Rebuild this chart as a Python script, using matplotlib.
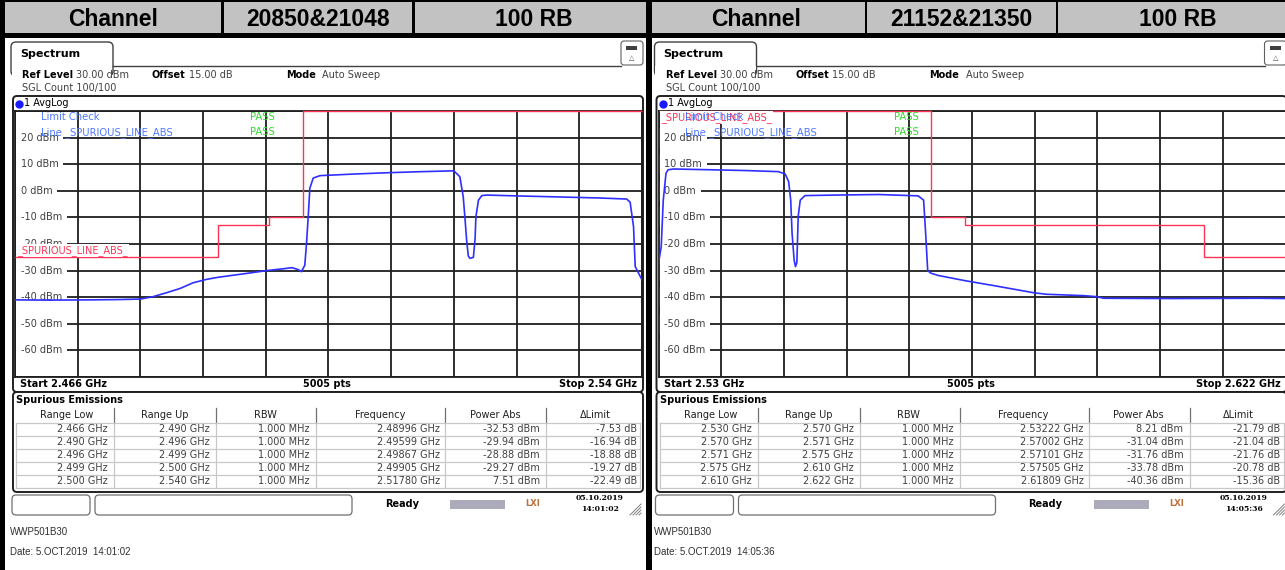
import matplotlib
matplotlib.use("Agg")
import matplotlib.pyplot as plt
from matplotlib.patches import Rectangle, FancyBboxPatch
from matplotlib.transforms import blended_transform_factory

W, H = 1285, 570

# header cells
header_left = ["Channel", "20850&21048", "100 RB"]
header_right = ["Channel", "21152&21350", "100 RB"]

# sweep span (GHz)
start_left, stop_left = 2.466, 2.54
start_right, stop_right = 2.53, 2.622
sweep_pts = 5005
ref_level, offset_db = 30.00, 15.00

# trace 1 AvgLog, left sweep
trace_left_f = [2.4660, 2.4700, 2.4750, 2.4780, 2.4808, 2.4823, 2.4839, 2.4855, 2.4870, 2.4886,
                2.4900, 2.4937, 2.4957, 2.4977, 2.4987, 2.4994, 2.4998, 2.5002, 2.5004, 2.5006,
                2.5008, 2.5012, 2.5020, 2.5060, 2.5100, 2.5140, 2.5178, 2.5185, 2.5189, 2.5191,
                2.5193, 2.5195, 2.5197, 2.5201, 2.5203, 2.5204, 2.5207, 2.5211, 2.5217, 2.5250,
                2.5300, 2.5350, 2.5382, 2.5386, 2.5390, 2.5392, 2.5396, 2.5400]
trace_left_db = [-41.0, -41.1, -41.0, -40.9, -40.7, -39.8, -38.3, -36.7, -34.6, -33.3,
                 -32.5, -30.9, -30.0, -29.3, -28.9, -29.6, -30.4, -28.0, -20.0, -10.0,
                 1.0, 4.8, 5.7, 6.3, 6.8, 7.2, 7.5, 5.3, -2.2, -10.0,
                 -18.5, -24.5, -25.4, -25.0, -18.0, -9.7, -3.5, -1.8, -1.6, -1.9,
                 -2.3, -2.7, -3.1, -4.3, -13.5, -28.5, -31.0, -33.5]

# trace 1 AvgLog, right sweep
trace_right_f = [2.5300, 2.5304, 2.5307, 2.5311, 2.5314, 2.5322, 2.5378, 2.5430, 2.5476, 2.5486,
                 2.5491, 2.5494, 2.5496, 2.5499, 2.5501, 2.5503, 2.5505, 2.5508, 2.5515, 2.5560,
                 2.5623, 2.5681, 2.5689, 2.5692, 2.5695, 2.5700, 2.5710, 2.5750, 2.5791, 2.5850,
                 2.5869, 2.5923, 2.5943, 2.5953, 2.6050, 2.6181, 2.6220]
trace_right_db = [-27.3, -21.0, -3.5, 6.6, 7.9, 8.2, 7.9, 7.6, 7.2, 6.3,
                  3.4, -3.5, -16.0, -26.0, -28.5, -27.0, -9.5, -3.5, -1.8, -1.6,
                  -1.4, -1.9, -3.5, -16.0, -30.0, -31.0, -31.8, -33.8, -35.6, -38.3,
                  -38.9, -39.4, -39.8, -40.4, -40.5, -40.4, -40.5]

# limit line _SPURIOUS_LINE_ABS_ (segment edges in GHz, level in dBm)
limit_left_edges = [2.466, 2.490, 2.496, 2.499, 2.500, 2.540]
limit_left_db = [-25, -13, -10, -10, 30]
limit_right_edges = [2.530, 2.570, 2.571, 2.575, 2.610, 2.622]
limit_right_db = [30, -10, -10, -13, -25]

# spurious emissions result tables
se_left_low = [2.466, 2.490, 2.496, 2.499, 2.500]
se_left_up = [2.490, 2.496, 2.499, 2.500, 2.540]
se_left_rbw = [1.000, 1.000, 1.000, 1.000, 1.000]
se_left_freq = [2.48996, 2.49599, 2.49867, 2.49905, 2.51780]
se_left_pwr = [-32.53, -29.94, -28.88, -29.27, 7.51]
se_left_delta = [-7.53, -16.94, -18.88, -19.27, -22.49]

se_right_low = [2.530, 2.570, 2.571, 2.575, 2.610]
se_right_up = [2.570, 2.571, 2.575, 2.610, 2.622]
se_right_rbw = [1.000, 1.000, 1.000, 1.000, 1.000]
se_right_freq = [2.53222, 2.57002, 2.57101, 2.57505, 2.61809]
se_right_pwr = [8.21, -31.04, -31.76, -33.78, -40.36]
se_right_delta = [-21.79, -21.04, -21.76, -20.78, -15.36]

stamp_left = ("05.10.2019", "14:01:02", "5.OCT.2019  14:01:02")
stamp_right = ("05.10.2019", "14:05:36", "5.OCT.2019  14:05:36")
device_name = "WWP501B30"

TRACE_BLUE = "#2f2fff"
LIMIT_RED = "#ff3355"
INFO_BLUE = "#4f78ff"
PASS_GREEN = "#2fd92f"

plt.rcParams["font.family"] = "DejaVu Sans"

fig = plt.figure(figsize=(W / 100, H / 100), dpi=100)
bg = fig.add_axes([0, 0, 1, 1])
bg.set_xlim(0, W)
bg.set_ylim(H, 0)
bg.axis("off")


def fig_rect(x0, y0, x1, y1):
    return [x0 / W, 1 - y1 / H, (x1 - x0) / W, (y1 - y0) / H]


def rbox(x, y, w, h, r=4, ec="#303030", lw=1.0, fc="white", z=1):
    bg.add_patch(FancyBboxPatch((x, y), w, h, boxstyle=f"round,pad=0,rounding_size={r}",
                                ec=ec, fc=fc, lw=lw, zorder=z))


def draw_panel(o, header, start, stop, tr_f, tr_db, lim_edges, lim_db, lim_label,
               table, stamp):
    # header row
    for txt, cx in zip(header, [113, 318, 534]):
        bg.text(o + cx, 19, txt, ha="center", va="center", fontsize=16.5,
                fontweight="bold", family="Liberation Sans")
    for dx in (221, 412):
        bg.add_patch(Rectangle((o + dx, 0), 2.5, 34, fc="black", ec="none"))

    # Spectrum tab and info lines
    rbox(o + 11, 42, 102, 34, r=5, ec="#404040", lw=1.0, z=1)
    bg.add_patch(Rectangle((o + 11.6, 66), 100.8, 12, fc="white", ec="none", zorder=1.5))
    bg.plot([o + 113, o + 621], [65.5, 65.5], color="#404040", lw=1.0, zorder=1.6)
    bg.text(o + 20, 54, "Spectrum", fontsize=8, fontweight="bold", va="center", zorder=3)
    rbox(o + 621, 41, 22, 24, r=3, ec="#606060", lw=0.8, z=2)
    bg.add_patch(Rectangle((o + 626, 46), 11, 4, fc="#404040", ec="none", zorder=3))
    bg.text(o + 632, 58, "\u25b3", fontsize=5, ha="center", va="center", color="#505050", zorder=3)

    bg.text(o + 22, 75, "Ref Level", fontsize=7, fontweight="bold", va="center")
    bg.text(o + 76, 75, f"{ref_level:.2f} dBm", fontsize=7, va="center", color="#404040")
    bg.text(o + 152, 75, "Offset", fontsize=7, fontweight="bold", va="center")
    bg.text(o + 189, 75, f"{offset_db:.2f} dB", fontsize=7, va="center", color="#404040")
    bg.text(o + 286, 75, "Mode", fontsize=7, fontweight="bold", va="center")
    bg.text(o + 322, 75, "Auto Sweep", fontsize=7, va="center", color="#404040")
    bg.text(o + 22, 88, "SGL Count 100/100", fontsize=7, va="center", color="#404040")

    # diagram frame
    rbox(o + 13, 96, 630, 296, r=4, ec="#202020", lw=1.4, z=1)
    bg.plot(o + 19, 103.5, "o", ms=5, color="#1a1aff", zorder=3)
    bg.text(o + 24, 103.5, "1 AvgLog", fontsize=7, va="center", zorder=3)
    bg.text(o + 20, 384, f"Start {start:g} GHz", fontsize=7, fontweight="bold", va="center")
    bg.text(o + 327, 384, f"{sweep_pts} pts", fontsize=7, fontweight="bold", va="center",
            ha="center")
    bg.text(o + 637, 384, f"Stop {stop:g} GHz", fontsize=7, fontweight="bold", va="center",
            ha="right")

    ax = fig.add_axes(fig_rect(o + 15, 111, o + 642, 377))
    ax.set_xlim(start, stop)
    ax.set_ylim(-70, 30)
    step = (stop - start) / 10
    ax.set_xticks([start + i * step for i in range(11)])
    ax.set_yticks(range(-70, 31, 10))
    ax.tick_params(length=0, labelbottom=False, labelleft=False)
    ax.grid(True, color="#1e1e1e", lw=1.3)
    ax.set_axisbelow(True)
    for s in ax.spines.values():
        s.set_color("#1e1e1e")
        s.set_linewidth(1.3)
    ax.patch.set_alpha(0)

    yl = blended_transform_factory(ax.transAxes, ax.transData)
    for v in range(20, -70, -10):
        ax.text(0.009, v, f"{v} dBm", transform=yl, fontsize=7, color="#404040",
                va="center", ha="left", zorder=2,
                bbox=dict(fc="white", ec="none", pad=3.6))

    ax.stairs(lim_db, lim_edges, baseline=None, color=LIMIT_RED, lw=1.0, zorder=3,
              clip_on=False)
    ax.plot(tr_f, tr_db, color=TRACE_BLUE, lw=1.2, zorder=4)

    # limit check info
    lx, ly = lim_label
    ax.text(lx, ly, "_SPURIOUS_LINE_ABS_", transform=yl, fontsize=7, color=LIMIT_RED,
            va="center", ha="left", zorder=3.5,
            bbox=dict(fc="white", ec="none", pad=0.6))
    ax.text(0.042, 27.6, "Limit Check", transform=yl, fontsize=7.2, color=INFO_BLUE,
            va="center", zorder=5)
    ax.text(0.042, 22.0, "Line _SPURIOUS_LINE_ABS", transform=yl, fontsize=7.2,
            color=INFO_BLUE, va="center", zorder=5)
    ax.text(0.375, 27.6, "PASS", transform=yl, fontsize=7.2, color=PASS_GREEN,
            va="center", zorder=5)
    ax.text(0.375, 22.0, "PASS", transform=yl, fontsize=7.2, color=PASS_GREEN,
            va="center", zorder=5)

    # spurious emissions table
    rbox(o + 13, 392, 630, 100, r=4, ec="#202020", lw=1.4, z=1)
    bg.text(o + 16, 400, "Spurious Emissions", fontsize=7, fontweight="bold", va="center")
    heads = ["Range Low", "Range Up", "RBW", "Frequency", "Power Abs", "\u0394Limit"]
    centers = [67, 165, 265, 380, 495, 595]
    seps = [16, 114, 216, 316, 445, 546, 640]
    rights = [108, 210, 310, 440, 540, 637]
    for h, c in zip(heads, centers):
        bg.text(o + c, 415, h, fontsize=7, va="center", ha="center", color="#202020")
    for s in seps[1:-1]:
        bg.plot([o + s, o + s], [408, 422], color="#707070", lw=0.9)
    row_y = [429, 442, 455, 468, 481]
    for y in [422.5] + [yy + 6.5 for yy in row_y]:
        bg.plot([o + 16, o + 640], [y, y], color="#c8c8c8", lw=0.9)
    for s in seps:
        bg.plot([o + s, o + s], [422.5, 487.5], color="#c8c8c8", lw=0.9)
    low, up, rbw, freq, pwr, dlt = table
    for i, y in enumerate(row_y):
        cells = [f"{low[i]:.3f} GHz", f"{up[i]:.3f} GHz", f"{rbw[i]:.3f} MHz",
                 f"{freq[i]:.5f} GHz", f"{pwr[i]:.2f} dBm", f"{dlt[i]:.2f} dB"]
        for txt, r in zip(cells, rights):
            bg.text(o + r, y, txt, fontsize=7, va="center", ha="right", color="#404040")

    # status bar
    rbox(o + 12, 495, 78, 20, r=4, ec="#707070", lw=0.9)
    rbox(o + 95, 495, 257, 20, r=4, ec="#707070", lw=0.9)
    bg.text(o + 402, 504, "Ready", fontsize=7, fontweight="bold", ha="center", va="center")
    bg.add_patch(Rectangle((o + 450, 499.5), 55, 9, fc="#9c9cb0", ec="none", alpha=0.85))
    bg.text(o + 533, 504, "LXI", fontsize=6, fontweight="bold", ha="center", va="center",
            color="#c0703a")
    bg.text(o + 600, 498, stamp[0], fontsize=5.5, fontweight="bold", ha="center",
            va="center", family="DejaVu Serif")
    bg.text(o + 600, 509, stamp[1], fontsize=5.5, fontweight="bold", ha="center",
            va="center", family="DejaVu Serif")
    for k in range(4):
        bg.plot([o + 630 + 3 * k, o + 641], [515, 504 + 3 * k], color="#808080", lw=0.7)

    bg.text(o + 10, 532, device_name, fontsize=7, va="center", color="#303030",
            family="Liberation Sans")
    bg.text(o + 10, 552, "Date: " + stamp[2], fontsize=7, va="center", color="#303030",
            family="Liberation Sans")


# header strip and black separators
bg.add_patch(Rectangle((0, 0), W, 34, fc="#c2c2c2", ec="none", zorder=0.5))
bg.add_patch(Rectangle((0, 0), W, 2, fc="black", ec="none", zorder=0.6))
bg.add_patch(Rectangle((0, 33), W, 5, fc="black", ec="none", zorder=0.6))
bg.add_patch(Rectangle((0, 0), 5, H, fc="black", ec="none", zorder=5))
bg.add_patch(Rectangle((646, 0), 6, H, fc="black", ec="none", zorder=5))

draw_panel(0, header_left, start_left, stop_left, trace_left_f, trace_left_db,
           limit_left_edges, limit_left_db, (0.004, -22.5),
           (se_left_low, se_left_up, se_left_rbw, se_left_freq, se_left_pwr, se_left_delta),
           stamp_left)
draw_panel(643.5, header_right, start_right, stop_right, trace_right_f, trace_right_db,
           limit_right_edges, limit_right_db, (0.004, 27.6),
           (se_right_low, se_right_up, se_right_rbw, se_right_freq, se_right_pwr,
            se_right_delta),
           stamp_right)

fig.savefig("out.png", dpi=100)
